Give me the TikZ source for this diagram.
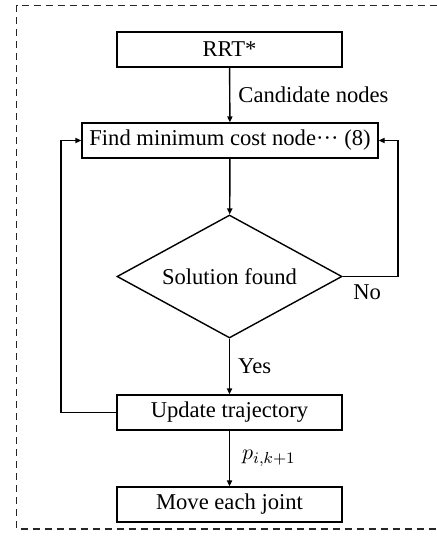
\documentclass[tikz,border=0pt]{standalone}
\usepackage{fontspec}
\setmainfont{Liberation Serif}
\usetikzlibrary{arrows.meta, positioning, shapes.geometric}
\definecolor{cline}{HTML}{000000}
\definecolor{cframe}{HTML}{262626}
\tikzset{
  every picture/.style={line width=0.7pt},
  box/.style={draw=cline, rectangle, align=center, inner sep=2pt, minimum width=112.5pt, minimum height=17.5pt, font=\fontsize{11.3}{13}\selectfont},
  decide/.style={draw=cline, diamond, aspect=1.83, inner sep=0pt, minimum width=112.5pt, minimum height=61.5pt, font=\fontsize{11.3}{13}\selectfont},
  arrow/.style={-{Triangle[length=3pt, width=2.6pt]}, draw=cline},
  lbl/.style={font=\fontsize{11.3}{13}\selectfont, inner sep=4pt},
}

\begin{document}
\begin{tikzpicture}[x=0.5pt, y=-0.5pt,
    frame/.style={draw=cframe, dashed, dash pattern=on 3.5pt off 2.5pt, line width=0.8pt},
  ]
  \useasboundingbox (0,0) rectangle (437,560);
  \draw[frame] (437,5.5) -| (16.5,529) -- (437,529);

  % main column
  \node[box] (rrt) at (229.5,49.5) {RRT*};
  \node[box, minimum width=148pt] (find) at (230,140.5) {Find minimum cost node··· (8)};
  \node[decide] (sol) at (229.5,276.5) {Solution found};
  \node[box] (upd) at (229.5,412.5) {Update trajectory};
  \node[box] (move) at (229.5,504.5) {Move each joint};

  \draw[arrow] (rrt) -- node[lbl, right] {Candidate nodes} (find);
  \draw[arrow] (find) -- (sol);
  \draw[arrow] (sol) -- node[lbl, right] {Yes} (upd);
  \draw[arrow] (upd) -- node[lbl, right, xshift=2pt] {$p_{i,k+1}$} (move);

  % loops back
  \coordinate (rt) at (398,276.5);
  \coordinate (lt) at (61,412.5);
  \draw[arrow] (sol.east) node[lbl, below right, xshift=1pt] {No} -- (rt) |- (find.east);
  \draw[arrow] (upd.west) -- (lt) |- (find.west);
\end{tikzpicture}
\end{document}
